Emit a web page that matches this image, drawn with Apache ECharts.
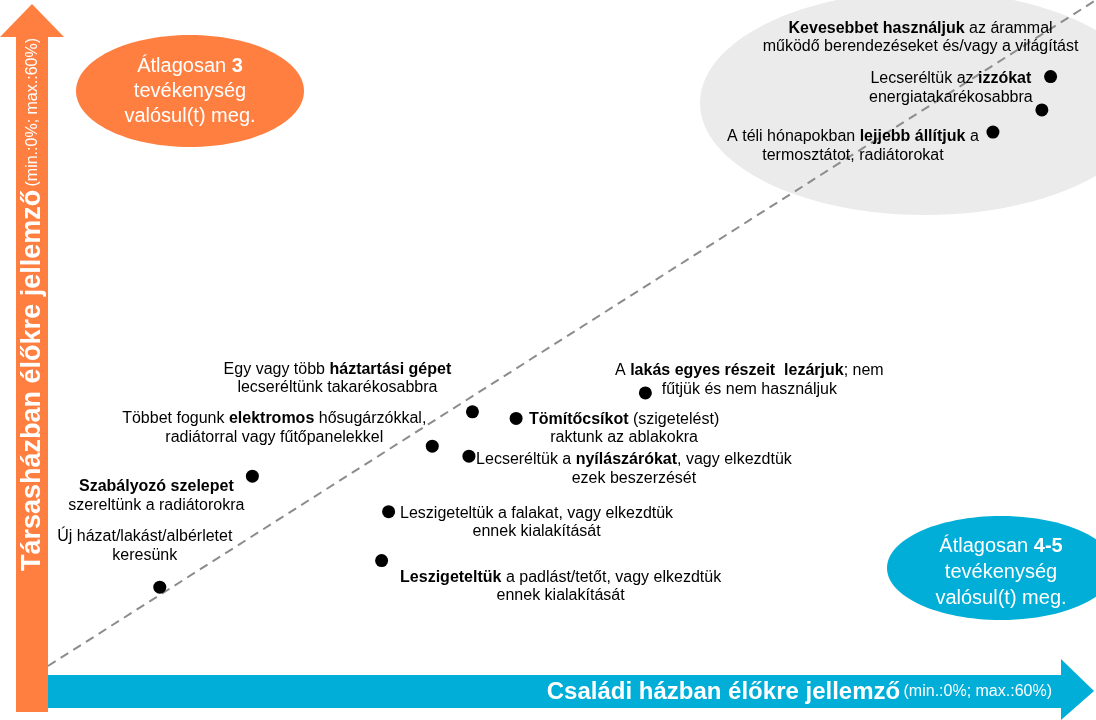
<!DOCTYPE html>
<html>
<head>
<meta charset="utf-8">
<script src="https://cdn.jsdelivr.net/npm/echarts@6/dist/echarts.min.js"></script>
<style>
    html, body { margin: 0; padding: 0; background: #fff; }
    #chart { width: 1096px; height: 720px; }
</style>
</head>
<body>
<div id="chart"></div>
<script>
(function() {
    'use strict';

    // activities, ** marks the bold part
    var activities = [
        'Új házat/lakást/albérletet\nkeresünk',
        '**Szabályozó szelepet**\nszereltünk a radiátorokra',
        'Többet fogunk **elektromos** hősugárzókkal,\nradiátorral vagy fűtőpanelekkel',
        'Egy vagy több **háztartási gépet**\nlecseréltünk takarékosabbra',
        '**Tömítőcsíkot** (szigetelést)\nraktunk az ablakokra',
        'Lecseréltük a **nyílászárókat**, vagy elkezdtük\nezek beszerzését',
        'Leszigeteltük a falakat, vagy elkezdtük\nennek kialakítását',
        '**Leszigeteltük** a padlást/tetőt, vagy elkezdtük\nennek kialakítását',
        'A **lakás egyes részeit  lezárjuk**; nem\nfűtjük és nem használjuk',
        '**Kevesebbet használjuk** az árammal\nműködő berendezéseket és/vagy a világítást',
        'Lecseréltük az **izzókat**\nenergiatakarékosabbra',
        'A téli hónapokban **lejjebb állítjuk** a\ntermosztátot, radiátorokat'
    ];
    // share among family house residents (%)
    var familyHouse = [6.4, 11.7, 22.0, 24.3, 26.8, 24.1, 19.5, 19.1, 34.2, 57.4, 56.9, 54.1];
    // share among apartment block residents (%)
    var apartment = [7.1, 17.1, 19.8, 22.9, 22.3, 18.9, 13.9, 9.5, 24.6, 53.1, 50.1, 48.1];
    var diagonal = [0, 60];

    var xTitle = 'Családi házban élőkre jellemző';
    var yTitle = 'Társasházban élőkre jellemző';
    var rangeNote = '(min.:0%; max.:60%)';

    // label placement relative to each dot (px)
    var labelOffsets = [
        [-15, -41], [-96, 20], [-158, -18], [-135, -33], [108, 10], [165, 13],
        [148, 11], [179, 26], [104, -13], [-130, -39], [-91, -22], [-140, 14]
    ];

    var FONT = '"Liberation Sans", Arial, sans-serif';
    var ORANGE = '#ff7f41';
    var BLUE = '#00aed8';

    function toRich(s) {
        return s.replace(/\*\*([^*]+)\*\*/g, '{b|$1}');
    }

    var points = familyHouse.map(function(x, i) {
        return {
            value: [x, apartment[i]],
            label: { offset: labelOffsets[i] }
        };
    });

    var chart = echarts.init(document.getElementById('chart'));

    var option = {
        animation: false,
        grid: { left: 48, right: 0, top: 0, bottom: 54 },
        xAxis: { type: 'value', min: 0, max: 60, show: false },
        yAxis: { type: 'value', min: 0, max: 60, show: false },
        series: [
            {
                type: 'line',
                data: [[diagonal[0], diagonal[0]], [diagonal[1], diagonal[1]]],
                symbol: 'none',
                silent: true,
                z: 1,
                lineStyle: { color: '#8c8c8c', width: 2, type: [9, 6] }
            },
            {
                type: 'scatter',
                data: points,
                symbolSize: 13,
                z: 3,
                itemStyle: { color: '#000', opacity: 1 },
                label: {
                    show: true,
                    position: 'inside',
                    align: 'center',
                    verticalAlign: 'middle',
                    color: '#000',
                    fontFamily: FONT,
                    fontSize: 16,
                    lineHeight: 18.5,
                    formatter: function(p) {
                        return toRich(activities[p.dataIndex]);
                    },
                    rich: {
                        b: { fontWeight: 'bold', fontFamily: FONT, fontSize: 16, lineHeight: 18.5, color: '#000' }
                    }
                }
            }
        ],
        graphic: [
            // grey group highlight
            {
                type: 'ellipse', z: 0, silent: true,
                shape: { cx: 925, cy: 103, rx: 225, ry: 112 },
                style: { fill: '#ebebeb' }
            },
            // orange note
            {
                type: 'ellipse', z: 5, silent: true,
                shape: { cx: 190, cy: 91, rx: 114, ry: 56 },
                style: { fill: ORANGE }
            },
            {
                type: 'text', z: 6, silent: true, x: 190, y: 91,
                style: {
                    text: 'Átlagosan {b|3}\ntevékenység\nvalósul(t) meg.',
                    align: 'center', verticalAlign: 'middle',
                    fill: '#fff', font: '20px ' + FONT, lineHeight: 25,
                    rich: { b: { fontWeight: 'bold', fontSize: 20, fontFamily: FONT, fill: '#fff', lineHeight: 25 } }
                }
            },
            // blue note
            {
                type: 'ellipse', z: 5, silent: true,
                shape: { cx: 1001, cy: 568, rx: 114, ry: 52 },
                style: { fill: BLUE }
            },
            {
                type: 'text', z: 6, silent: true, x: 1001, y: 572,
                style: {
                    text: 'Átlagosan {b|4-5}\ntevékenység\nvalósul(t) meg.',
                    align: 'center', verticalAlign: 'middle',
                    fill: '#fff', font: '20px ' + FONT, lineHeight: 26,
                    rich: { b: { fontWeight: 'bold', fontSize: 20, fontFamily: FONT, fill: '#fff', lineHeight: 26 } }
                }
            },
            // vertical arrow
            {
                type: 'polygon', z: 10, silent: true,
                shape: { points: [[16, 712], [16, 37], [0, 37], [32, 4], [64, 37], [48, 37], [48, 712]] },
                style: { fill: ORANGE }
            },
            {
                type: 'text', z: 11, silent: true, x: 33, y: 38, rotation: Math.PI / 2,
                style: {
                    text: '{b|' + yTitle + '} {s|' + rangeNote + '}',
                    align: 'right', verticalAlign: 'middle',
                    fill: '#fff',
                    rich: {
                        b: { fontWeight: 'bold', fontSize: 27, fontFamily: FONT, fill: '#fff' },
                        s: { fontSize: 16, fontFamily: FONT, fill: '#fff' }
                    }
                }
            },
            // horizontal arrow
            {
                type: 'polygon', z: 10, silent: true,
                shape: { points: [[48, 675], [1061, 675], [1061, 659], [1094, 691], [1061, 720], [1061, 708], [48, 708]] },
                style: { fill: BLUE }
            },
            {
                type: 'text', z: 11, silent: true, x: 1052, y: 692,
                style: {
                    text: '{b|' + xTitle + '} {s|' + rangeNote + '}',
                    align: 'right', verticalAlign: 'middle',
                    fill: '#fff',
                    rich: {
                        b: { fontWeight: 'bold', fontSize: 24, fontFamily: FONT, fill: '#fff' },
                        s: { fontSize: 16, fontFamily: FONT, fill: '#fff' }
                    }
                }
            }
        ]
    };

    chart.setOption(option);
})();
</script>
</body>
</html>
